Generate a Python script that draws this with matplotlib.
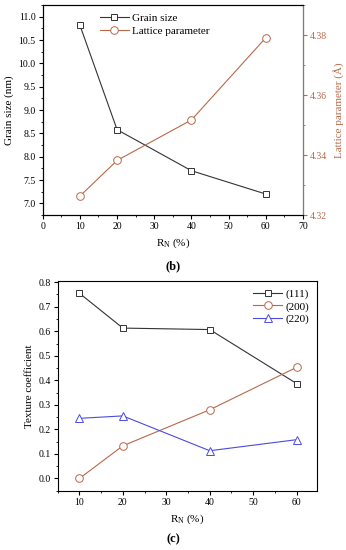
import matplotlib
matplotlib.use("Agg")
import matplotlib.pyplot as plt
from matplotlib.ticker import MultipleLocator

plt.rcParams['font.family'] = ['Liberation Serif', 'DejaVu Serif']
plt.rcParams['mathtext.fontset'] = 'custom'
plt.rcParams['mathtext.rm'] = 'Liberation Serif'
plt.rcParams['font.size'] = 7

# Data
rn_b = [10, 20, 40, 60]
grain_size = [10.82, 8.58, 7.70, 7.20]
lattice = [4.3263, 4.3382, 4.3517, 4.3791]

rn_c = [10, 20, 40, 60]
tc_111 = [0.755, 0.613, 0.607, 0.387]
tc_200 = [0.000, 0.133, 0.280, 0.453]
tc_220 = [0.245, 0.255, 0.113, 0.158]

brown = '#b8694a'
blue = '#4b4be0'
dark = '#333333'

fig = plt.figure(figsize=(3.46, 5.5), dpi=100)

def style(ax):
    ax.tick_params(which='both', direction='out', labelsize=7, pad=2)
    ax.tick_params(which='major', length=3)
    ax.tick_params(which='minor', length=1.6)

# ---- panel (b)
ax1 = fig.add_axes([0.1234, 0.609, 0.7523, 0.3818])
ax2 = ax1.twinx()
ms = 5
l1, = ax1.plot(rn_b, grain_size, color=dark, lw=0.8, marker='s', ms=ms,
               mfc='white', mec=dark, mew=0.7, label='Grain size')
l2, = ax2.plot(rn_b, lattice, color=brown, lw=0.8, marker='o', ms=ms + 0.5,
               mfc='white', mec=brown, mew=0.7, label='Lattice parameter')
ax1.set_xlim(0, 70)
ax1.set_ylim(6.75, 11.25)
ax2.set_ylim(4.32, 4.39)
ax1.xaxis.set_major_locator(MultipleLocator(10))
ax1.xaxis.set_minor_locator(MultipleLocator(5))
ax1.yaxis.set_major_locator(MultipleLocator(0.5))
ax1.yaxis.set_minor_locator(MultipleLocator(0.25))
ax2.yaxis.set_major_locator(MultipleLocator(0.02))
ax2.yaxis.set_minor_locator(MultipleLocator(0.01))
ax1.yaxis.set_major_formatter(matplotlib.ticker.FormatStrFormatter('%.1f'))
ax2.yaxis.set_major_formatter(matplotlib.ticker.FormatStrFormatter('%.2f'))
style(ax1); style(ax2)
ax2.tick_params(axis='y', which='both', colors=brown)
ax2.spines['right'].set_color(brown)
for sp in ax1.spines.values():
    sp.set_linewidth(0.8)
for sp in ax2.spines.values():
    sp.set_linewidth(0.8)
ax1.set_ylabel('Grain size (nm)', fontsize=8, labelpad=3)
ax2.set_ylabel('Lattice parameter (Å)', fontsize=8, color=brown, labelpad=4)
ax1.set_xlabel(r'$\mathregular{R_N}$ (%)', fontsize=8, labelpad=4)
ax1.legend(handles=[l1, l2], loc='upper left', bbox_to_anchor=(0.19, 1.0),
           frameon=False, fontsize=8, handlelength=2.6, handletextpad=0.3,
           borderaxespad=0.3, labelspacing=0.3)
fig.text(0.5, 1 - 266 / 550, '(b)', ha='center', va='center', fontsize=9, fontweight='bold')

# ---- panel (c)
ax3 = fig.add_axes([0.1668, 0.1078, 0.7494, 0.3813])
h1, = ax3.plot(rn_c, tc_111, color=dark, lw=0.8, marker='s', ms=ms,
               mfc='white', mec=dark, mew=0.7, label='(111)')
h2, = ax3.plot(rn_c, tc_200, color=brown, lw=0.8, marker='o', ms=ms + 0.5,
               mfc='white', mec=brown, mew=0.7, label='(200)')
h3, = ax3.plot(rn_c, tc_220, color=blue, lw=0.8, marker='^', ms=ms + 0.5,
               mfc='white', mec=blue, mew=0.7, label='(220)')
ax3.set_xlim(5, 64.7)
ax3.set_ylim(-0.05, 0.805)
ax3.xaxis.set_major_locator(MultipleLocator(10))
ax3.xaxis.set_minor_locator(MultipleLocator(5))
ax3.yaxis.set_major_locator(MultipleLocator(0.1))
ax3.yaxis.set_minor_locator(MultipleLocator(0.05))
ax3.yaxis.set_major_formatter(matplotlib.ticker.FormatStrFormatter('%.1f'))
style(ax3)
for sp in ax3.spines.values():
    sp.set_linewidth(0.8)
ax3.set_ylabel('Texture coefficient', fontsize=8, labelpad=3)
ax3.set_xlabel(r'$\mathregular{R_N}$ (%)', fontsize=8, labelpad=4)
ax3.legend(handles=[h1, h2, h3], loc='upper right', frameon=False, fontsize=8,
           handlelength=2.6, handletextpad=0.3, borderaxespad=0.3, labelspacing=0.25)
fig.text(0.5, 1 - 539 / 550, '(c)', ha='center', va='center', fontsize=9, fontweight='bold')

fig.savefig('out.png', dpi=100)
